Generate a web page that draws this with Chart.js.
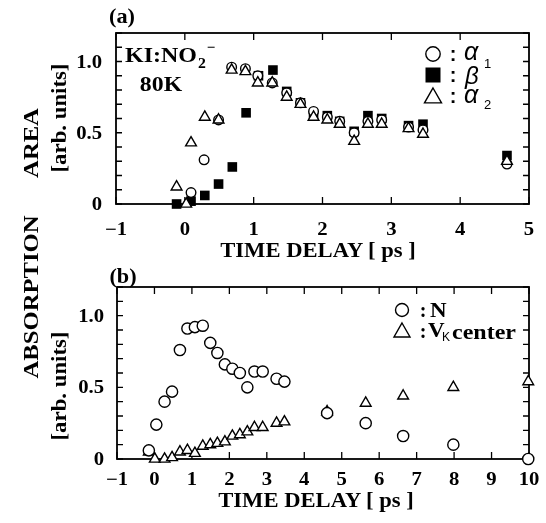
<!DOCTYPE html>
<html><head><meta charset="utf-8">
<script src="https://cdn.jsdelivr.net/npm/chart.js@4/dist/chart.umd.min.js"></script>
<style>
html,body{margin:0;padding:0;background:#fff;}
#wrap{position:relative;width:546px;height:523px;overflow:hidden;background:#fff;}
canvas{position:absolute;left:0;top:0;}
.t{position:absolute;color:#000;white-space:pre;line-height:1;}
</style></head><body>
<div id="wrap">
<canvas id="ca" width="546" height="523"></canvas>
<canvas id="cb" width="546" height="523"></canvas>
</div>
<script>
// ---------- Panel (a): KI:NO2- 80K ----------
const alpha1T = [0.09, 0.28, 0.49, 0.68, 0.88, 1.06, 1.27, 1.48, 1.68, 1.87, 2.07, 2.25, 2.46, 2.66, 2.86, 3.25, 3.46, 4.68];
const alpha1V = [0.08, 0.31, 0.59, 0.96, 0.95, 0.90, 0.85, 0.78, 0.71, 0.65, 0.61, 0.58, 0.50, 0.58, 0.59, 0.54, 0.52, 0.28];
const betaT   = [-0.12, 0.09, 0.29, 0.49, 0.69, 0.89, 1.07, 1.28, 1.48, 1.68, 1.87, 2.07, 2.25, 2.46, 2.66, 2.86, 3.25, 3.46, 4.68];
const betaV   = [0.00, 0.02, 0.06, 0.14, 0.26, 0.64, 0.90, 0.94, 0.79, 0.71, 0.62, 0.62, 0.58, 0.51, 0.62, 0.60, 0.55, 0.56, 0.34];
const alpha2T = [-0.12, 0.02, 0.09, 0.29, 0.49, 0.68, 0.88, 1.06, 1.27, 1.48, 1.68, 1.87, 2.07, 2.25, 2.46, 2.66, 2.86, 3.25, 3.46, 4.68];
const alpha2V = [0.12, 0.00, 0.43, 0.61, 0.59, 0.94, 0.93, 0.85, 0.85, 0.75, 0.70, 0.61, 0.59, 0.56, 0.44, 0.56, 0.56, 0.53, 0.49, 0.30];

// ---------- Panel (b): N and VK center ----------
const nT  = [-0.15, 0.05, 0.27, 0.47, 0.68, 0.88, 1.08, 1.29, 1.49, 1.68, 1.88, 2.08, 2.28, 2.48, 2.67, 2.89, 3.26, 3.47, 4.61, 5.64, 6.64, 7.98, 9.98];
const nV  = [0.06, 0.24, 0.40, 0.47, 0.76, 0.91, 0.92, 0.93, 0.81, 0.74, 0.66, 0.63, 0.60, 0.50, 0.61, 0.61, 0.56, 0.54, 0.32, 0.25, 0.16, 0.10, 0.00];
const vkT = [-0.15, 0.01, 0.27, 0.47, 0.68, 0.88, 1.08, 1.29, 1.49, 1.68, 1.88, 2.08, 2.28, 2.48, 2.67, 2.89, 3.26, 3.47, 4.61, 5.64, 6.64, 7.98, 9.98];
const vkV = [0.05, 0.00, 0.00, 0.01, 0.05, 0.06, 0.04, 0.09, 0.10, 0.11, 0.12, 0.16, 0.17, 0.19, 0.22, 0.22, 0.25, 0.26, 0.33, 0.39, 0.44, 0.50, 0.54];

// axis ranges / tick steps
const xRangeA = [-1, 5];
const xRangeB = [-1, 10];
const yRange = [0, 1.2];
const yLabelled = [0, 0.5, 1.0];

const SERIF = '"Liberation Serif","Times New Roman",serif';
const SANS = '"Liberation Sans",Arial,sans-serif';

function zip(t, v){ return t.map((x,i)=>({x:x, y:v[i]})); }

function yLabel(v){
  if (Math.abs(v) < 1e-9) return '0';
  return v.toFixed(1);
}
function xLabel(v){ return v < 0 ? '\u2212' + Math.abs(v) : String(v); }

function stretchText(ctx, text, x, y, align, sx){
  ctx.save(); ctx.translate(x, y); ctx.scale(sx, 1);
  ctx.textAlign = align; ctx.textBaseline = 'alphabetic';
  ctx.fillText(text, 0, 0); ctx.restore();
}

function makeFrame(opt){
  return {
    id: 'frame',
    beforeDatasetsDraw(chart){
      const {ctx, chartArea:a, scales:{x, y}} = chart;
      ctx.save();
      ctx.strokeStyle = '#000';
      ctx.lineWidth = 1.3;
      ctx.beginPath();
      x.ticks.forEach(t => {
        const px = x.getPixelForValue(t.value);
        ctx.moveTo(px, a.bottom); ctx.lineTo(px, a.bottom - 7);
        ctx.moveTo(px, a.top); ctx.lineTo(px, a.top + 7);
      });
      y.ticks.forEach(t => {
        const py = y.getPixelForValue(t.value);
        ctx.moveTo(a.left, py); ctx.lineTo(a.left + 6, py);
        ctx.moveTo(a.right, py); ctx.lineTo(a.right - 6, py);
      });
      ctx.stroke();
      ctx.lineWidth = 1.8;
      ctx.strokeRect(a.left, a.top, a.right - a.left, a.bottom - a.top);
      // tick labels
      ctx.fillStyle = '#000';
      ctx.font = 'bold 18px ' + SERIF;
      x.ticks.forEach(t => {
        const px = x.getPixelForValue(t.value);
        stretchText(ctx, xLabel(t.value), px, opt.xLabelY + 6, 'center', 1.15);
      });
      y.ticks.forEach(t => {
        const v = Math.round(t.value * 10) / 10;
        if (!yLabelled.some(l => Math.abs(l - v) < 1e-6)) return;
        const py = y.getPixelForValue(v);
        stretchText(ctx, yLabel(v), opt.yLabelRight, py + 6, 'right', 1.15);
      });
      ctx.restore();
    },
    afterDatasetsDraw(chart){
      const ctx = chart.ctx;
      ctx.save();
      ctx.strokeStyle = '#000'; ctx.fillStyle = '#000'; ctx.lineWidth = 1.4;
      opt.legend.forEach(s => {
        ctx.beginPath();
        if (s.shape === 'circle') {
          ctx.arc(s.x, s.y, s.r, 0, Math.PI * 2);
          ctx.fillStyle = '#fff'; ctx.fill(); ctx.stroke();
        } else if (s.shape === 'rect') {
          ctx.fillStyle = '#000';
          ctx.fillRect(s.x - s.r, s.y - s.r, 2 * s.r, 2 * s.r);
        } else {
          ctx.moveTo(s.x, s.y - s.r);
          ctx.lineTo(s.x + s.r, s.y + s.r * 0.75);
          ctx.lineTo(s.x - s.r, s.y + s.r * 0.75);
          ctx.closePath();
          ctx.fillStyle = '#fff'; ctx.fill(); ctx.stroke();
        }
      });
      ctx.restore();
    }
  };
}

function axisOpts(range, step){
  return {type:'linear', min:range[0], max:range[1],
    ticks:{display:false, stepSize:step}, grid:{display:false}, border:{display:false}};
}

function baseOptions(pad, xr){
  return {
    responsive:false, animation:false, events:[],
    layout:{padding:pad},
    plugins:{legend:{display:false}, tooltip:{enabled:false}},
    scales:{x:axisOpts(xr, 1), y:axisOpts(yRange, 0.1)}
  };
}

new Chart(document.getElementById('ca'), {
  type:'scatter',
  data:{datasets:[
    {label:'\u03b2', data:zip(betaT, betaV), pointStyle:'rect', pointRadius:6.8, pointBackgroundColor:'#000', pointBorderColor:'#000', pointBorderWidth:0, order:3, clip:false},
    {label:'\u03b11', data:zip(alpha1T, alpha1V), pointStyle:'circle', pointRadius:4.8, pointBackgroundColor:'#fff', pointBorderColor:'#000', pointBorderWidth:1.4, order:2, clip:false},
    {label:'\u03b12', data:zip(alpha2T, alpha2V), pointStyle:'triangle', pointRadius:6.2, pointBackgroundColor:'#fff', pointBorderColor:'#000', pointBorderWidth:1.4, order:1, clip:false}
  ]},
  options:baseOptions({left:108, right:17, top:33, bottom:311}, xRangeA),
  plugins:[makeFrame({xLabelY:229, yLabelRight:102, legend:[
    {shape:'circle', x:433, y:54, r:7.2},
    {shape:'rect', x:433, y:75, r:7.5},
    {shape:'triangle', x:433, y:96.5, r:8.5}
  ]})]
});

new Chart(document.getElementById('cb'), {
  type:'scatter',
  data:{datasets:[
    {label:'N', data:zip(nT, nV), pointStyle:'circle', pointRadius:5.6, pointBackgroundColor:'#fff', pointBorderColor:'#000', pointBorderWidth:1.4, order:1, clip:false},
    {label:'VK center', data:zip(vkT, vkV), pointStyle:'triangle', pointRadius:6.2, pointBackgroundColor:'#fff', pointBorderColor:'#000', pointBorderWidth:1.4, order:2, clip:false}
  ]},
  options:baseOptions({left:109, right:17, top:287, bottom:56}, xRangeB),
  plugins:[makeFrame({xLabelY:479, yLabelRight:104, legend:[
    {shape:'circle', x:402, y:310, r:6.5},
    {shape:'triangle', x:402, y:331, r:8}
  ]})]
});

// ---------- text ----------
const wrap = document.getElementById('wrap');
function addText(html, x, y, o){
  const d = document.createElement('div');
  d.className = 't';
  d.innerHTML = html;
  d.style.fontSize = o.size + 'px';
  d.style.fontFamily = o.sans ? SANS : SERIF;
  d.style.fontStyle = o.italic ? 'italic' : 'normal';
  d.style.fontWeight = o.normal ? 'normal' : 'bold';
  d.style.left = x + 'px'; d.style.top = y + 'px';
  const k = o.sx || 1;
  if (o.rot) d.style.transform = 'translate(-50%,-50%) rotate(-90deg) scaleX(' + k + ')';
  else if (o.align === 'left') { d.style.transformOrigin = '0 50%'; d.style.transform = 'translateY(-50%) scaleX(' + k + ')'; }
  else d.style.transform = 'translate(-50%,-50%) scaleX(' + k + ')';
  wrap.appendChild(d);
}
// panel tags
addText('(a)', 122, 15.5, {size:21, sx:1.06});
addText('(b)', 122.5, 275.5, {size:21, sx:1.06});
// sample annotation
addText('KI:NO', 125, 55, {size:22, sx:1.09, align:'left'});
addText('2', 202, 63, {size:15, sx:1.05});
addText('\u2212', 211, 47, {size:15});
addText('80K', 161, 83.5, {size:22, sx:1.08});
// x titles
addText('TIME DELAY [ ps ]', 317.5, 250, {size:20, sx:1.13});
addText('TIME DELAY [ ps ]', 316, 499.5, {size:20, sx:1.13});
// y titles
addText('ABSORPTION', 31, 297, {size:22, sx:1.12, rot:true});
addText('AREA', 31, 143, {size:22, sx:1.12, rot:true});
addText('[arb. units]', 59, 118, {size:20, sx:1.14, rot:true});
addText('[arb. units]', 59, 386, {size:20, sx:1.14, rot:true});
// legend (a)
[54, 75, 96].forEach(y => addText(':', 453, y, {size:20, sans:true}));
addText('\u03b1', 464, 51, {size:25, sans:true, italic:true, normal:true, align:'left'});
addText('1', 484, 63, {size:13, sans:true, normal:true, align:'left'});
addText('\u03b2', 465, 76, {size:24, sans:true, italic:true, normal:true, align:'left'});
addText('\u03b1', 464, 94, {size:25, sans:true, italic:true, normal:true, align:'left'});
addText('2', 484, 104, {size:13, sans:true, normal:true, align:'left'});
// legend (b)
addText(':', 423, 310, {size:20});
addText('N', 430, 310, {size:20, sx:1.15, align:'left'});
addText(':', 423, 331, {size:20});
addText('V', 428, 330, {size:20, sx:1.15, align:'left'});
addText('K', 442, 337, {size:12, sans:true, normal:true, align:'left'});
addText('center', 452, 332, {size:20, sx:1.2, align:'left'});
</script>
</body></html>
